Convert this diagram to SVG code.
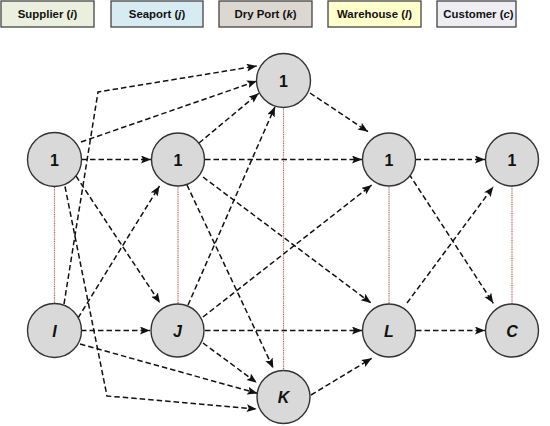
<svg xmlns="http://www.w3.org/2000/svg" width="550" height="426" viewBox="0 0 550 426">
<style>
.leg{stroke:#444;stroke-width:1.3}
.lt{font-family:"Liberation Sans",Arial,sans-serif;font-weight:bold;font-size:11.4px;fill:#111;text-anchor:middle}
.nd{fill:#D9D9D9;stroke:#333;stroke-width:1.4}
.nt{font-family:"Liberation Sans",Arial,sans-serif;font-weight:bold;font-size:16px;fill:#111;text-anchor:middle}
.it{font-style:italic}
.e{fill:none;stroke:#111;stroke-width:1.5;stroke-dasharray:5.5,3;marker-end:url(#ah)}
.v{fill:none;stroke:#A8604F;stroke-width:1.2;stroke-dasharray:1,0.8}
</style>
<defs>
<marker id="ah" markerUnits="userSpaceOnUse" markerWidth="11" markerHeight="9" refX="10" refY="4" orient="auto">
<path d="M0,0 L10,4 L0,8 L2,4 z" fill="#111"/>
</marker>
</defs>
<rect width="550" height="426" fill="#fff"/>
<g id="legend">
<rect class="leg" x="1" y="1" width="93" height="26" fill="#EBF0DE"/>
<text class="lt" x="47.5" y="18">Supplier (<tspan class="it">i</tspan>)</text>
<rect class="leg" x="111" y="1" width="92" height="26" fill="#D6ECF2"/>
<text class="lt" x="157" y="18">Seaport (<tspan class="it">j</tspan>)</text>
<rect class="leg" x="219" y="1" width="93" height="26" fill="#DDD7D2"/>
<text class="lt" x="265.5" y="18">Dry Port (<tspan class="it">k</tspan>)</text>
<rect class="leg" x="328" y="1" width="93" height="26" fill="#FFFFCC"/>
<text class="lt" x="374.5" y="18">Warehouse (<tspan class="it">l</tspan>)</text>
<rect class="leg" x="437" y="1" width="79" height="26" fill="#EEEEF2"/>
<text class="lt" x="478.5" y="18">Customer (<tspan class="it">c</tspan>)</text>
</g>
<g id="links">
<path class="v" d="M54.5,187 V304"/>
<path class="v" d="M178,185 V304"/>
<path class="v" d="M283.5,107 V370.5"/>
<path class="v" d="M389,185 V304"/>
<path class="v" d="M512,186 V304"/>
</g>
<g id="connectors">
<path class="e" d="M81.5,159.5 L151,159.5"/>
<path class="e" d="M81,142 L257,81"/>
<path class="e" d="M64,304 L98,92 L256.7,66"/>
<path class="e" d="M199,143 L258.7,93.3"/>
<path class="e" d="M188,305 L275,106.7"/>
<path class="e" d="M76,176 L160,303"/>
<path class="e" d="M65,186.5 L107,396 L256.7,409"/>
<path class="e" d="M80,344 L257.3,393.3"/>
<path class="e" d="M81,330.5 L150,330.5"/>
<path class="e" d="M78,318 L159.5,186"/>
<path class="e" d="M203,343 L256.7,382.7"/>
<path class="e" d="M205,330.5 L362,330.5"/>
<path class="e" d="M203,317 L371.7,185"/>
<path class="e" d="M187,185 L273.3,368.3"/>
<path class="e" d="M203,177 L371,303"/>
<path class="e" d="M205,159.5 L362,159.5"/>
<path class="e" d="M310,93 L368,131.7"/>
<path class="e" d="M311,395 L371.7,358.3"/>
<path class="e" d="M415.5,159.5 L485,159.5"/>
<path class="e" d="M409,174 L493.3,303.3"/>
<path class="e" d="M407,303 L493.3,186.7"/>
<path class="e" d="M416,330.5 L485,330.5"/>
</g>
<g id="s1"><circle class="nd" cx="54.5" cy="159.5" r="27"/><text class="nt" x="54.5" y="165.5">1</text></g>
<g id="p1"><circle class="nd" cx="178" cy="159.5" r="26.5"/><text class="nt" x="178" y="165.5">1</text></g>
<g id="d1"><circle class="nd" cx="283.5" cy="80.5" r="27"/><text class="nt" x="283.5" y="86.5">1</text></g>
<g id="w1"><circle class="nd" cx="389" cy="159.5" r="26.5"/><text class="nt" x="389" y="165.5">1</text></g>
<g id="c1"><circle class="nd" cx="512" cy="159.5" r="26.5"/><text class="nt" x="512" y="165.5">1</text></g>
<g id="nI"><circle class="nd" cx="54.5" cy="330.5" r="27"/><text class="nt it" x="54.5" y="336.5">I</text></g>
<g id="nJ"><circle class="nd" cx="177.5" cy="330.5" r="26.5"/><text class="nt it" x="177.5" y="336.5">J</text></g>
<g id="nK"><circle class="nd" cx="283.5" cy="397" r="26.5"/><text class="nt it" x="283.5" y="403">K</text></g>
<g id="nL"><circle class="nd" cx="389" cy="330.5" r="26.5"/><text class="nt it" x="389" y="336.5">L</text></g>
<g id="nC"><circle class="nd" cx="512" cy="330.5" r="26.5"/><text class="nt it" x="512" y="336.5">C</text></g>
</svg>
